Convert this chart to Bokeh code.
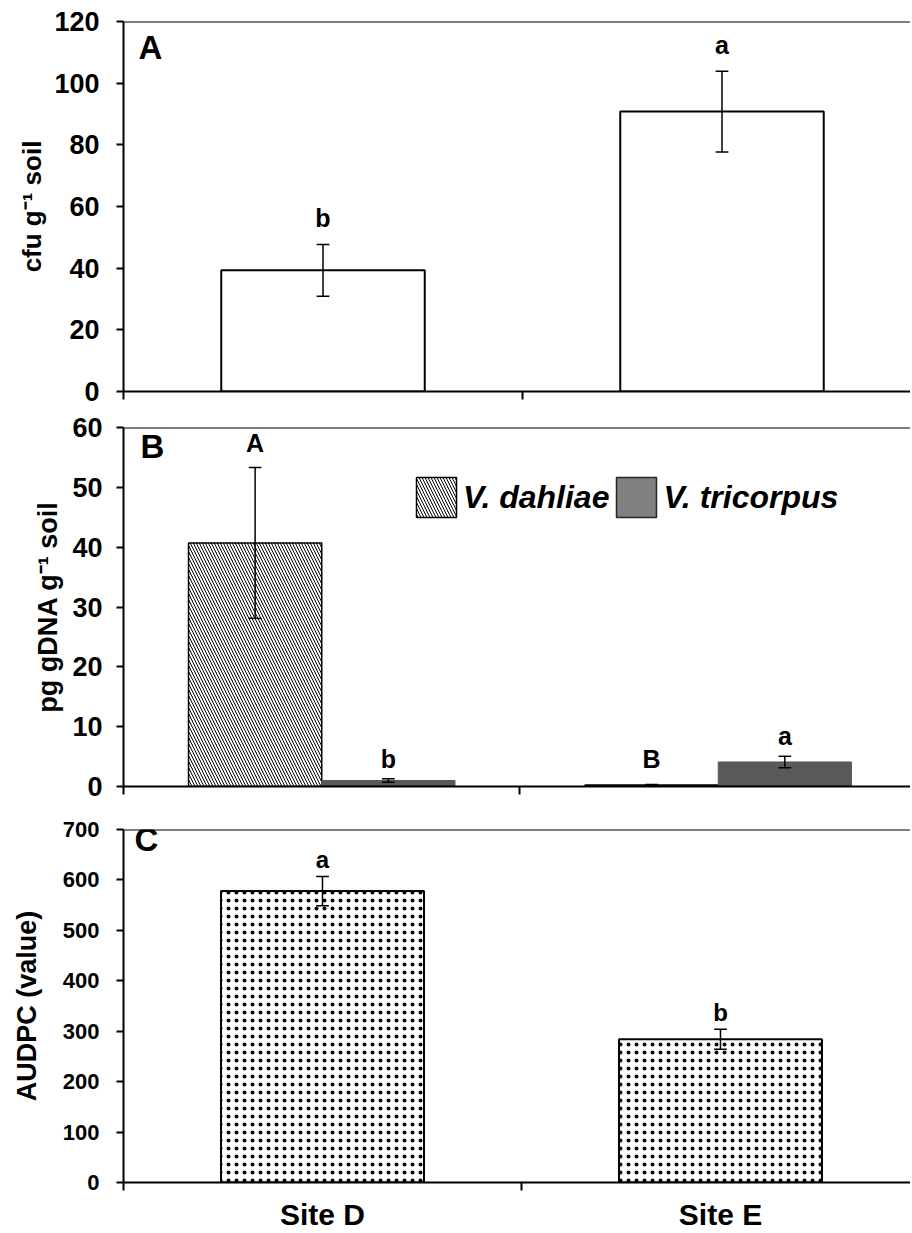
from bokeh.plotting import figure
from bokeh.models import Range1d, FixedTicker, Span, Legend, LegendItem, Label
from bokeh.layouts import column
from bokeh.embed import file_html
from bokeh.resources import INLINE
from bokeh.core.properties import value

# ---------------- data ----------------
sites = ["Site D", "Site E"]

# Panel A: cfu g-1 soil
cfu_mean = [39.3, 90.8]
cfu_err = [8.4, 13.1]
cfu_letters = ["b", "a"]

# Panel B: pg gDNA g-1 soil
dahliae_mean = [40.7, 0.25]
dahliae_err = [12.6, 0.1]
dahliae_letters = ["A", "B"]
tricorpus_mean = [1.0, 4.1]
tricorpus_err = [0.3, 0.95]
tricorpus_letters = ["b", "a"]

# Panel C: AUDPC
audpc_mean = [578, 284]
audpc_err = [29, 20]
audpc_letters = ["a", "b"]

yticks_A = [0, 20, 40, 60, 80, 100, 120]
yticks_B = [0, 10, 20, 30, 40, 50, 60]
yticks_C = [0, 100, 200, 300, 400, 500, 600, 700]

FONT = "Liberation Sans"
W = 910
CAT_PX = 399.0
centers = [i + 0.5 for i in range(len(sites))]
boundaries = [float(i) for i in range(len(sites) + 1)]


def make_fig(height, left, top, bottom, yticks, ylabel, tick_fs, tick_standoff,
             label_fs, label_standoff, xlabels=False):
    x_end = (W - left) / CAT_PX
    p = figure(width=W, height=height, output_backend="svg", toolbar_location=None,
               x_range=Range1d(0, x_end), y_range=Range1d(yticks[0], yticks[-1]),
               min_border_left=left, min_border_right=0, min_border_top=top,
               min_border_bottom=bottom)
    p.outline_line_color = None
    p.grid.visible = False
    p.background_fill_color = "white"
    p.border_fill_color = "white"
    # y axis
    ya = p.yaxis[0]
    ya.ticker = FixedTicker(ticks=yticks)
    ya.axis_line_width = 2
    ya.axis_line_color = "black"
    ya.major_tick_out = 7
    ya.major_tick_in = 0
    ya.major_tick_line_width = 2
    ya.minor_tick_line_color = None
    ya.major_label_standoff = tick_standoff
    ya.major_label_text_font = FONT
    ya.major_label_text_font_style = "bold"
    ya.major_label_text_font_size = tick_fs
    ya.major_label_text_color = "black"
    ya.axis_label = ylabel
    ya.axis_label_text_font = FONT
    ya.axis_label_text_font_style = "bold"
    ya.axis_label_text_font_size = label_fs
    ya.axis_label_text_color = "black"
    ya.axis_label_standoff = label_standoff
    # x axis
    xa = p.xaxis[0]
    if xlabels:
        xa.ticker = FixedTicker(ticks=centers, minor_ticks=boundaries)
        xa.major_label_overrides = {c: s for c, s in zip(centers, sites)}
        xa.major_label_text_font = FONT
        xa.major_label_text_font_style = "bold"
        xa.major_label_text_font_size = "30px"
        xa.major_label_text_color = "black"
        xa.major_label_standoff = 7
    else:
        xa.ticker = FixedTicker(ticks=[], minor_ticks=boundaries)
        xa.major_label_text_font_size = "0px"
        xa.major_label_standoff = 0
    xa.axis_line_width = 2
    xa.axis_line_color = "black"
    xa.major_tick_line_color = None
    xa.major_tick_out = 0
    xa.major_tick_in = 0
    xa.minor_tick_line_color = "black"
    xa.minor_tick_line_width = 2
    xa.minor_tick_out = 8
    xa.minor_tick_in = 0
    # top line
    p.add_layout(Span(location=yticks[-1], dimension="width", line_color="black",
                      line_width=2))
    return p


def error_bars(p, xs, mean, err, cap=0.016, lw=1.5):
    lo = [m - e for m, e in zip(mean, err)]
    hi = [m + e for m, e in zip(mean, err)]
    p.segment(x0=xs, y0=lo, x1=xs, y1=hi, line_color="black", line_width=lw)
    p.segment(x0=[x - cap for x in xs], y0=hi, x1=[x + cap for x in xs], y1=hi,
              line_color="black", line_width=lw)
    p.segment(x0=[x - cap for x in xs], y0=lo, x1=[x + cap for x in xs], y1=lo,
              line_color="black", line_width=lw)
    return hi


def sig_letters(p, xs, tops, letters, fs, gap):
    p.text(x=xs, y=tops, text=letters, text_font=value(FONT), text_font_style="bold",
           text_font_size=fs, text_align="center", text_baseline="middle",
           y_offset=-gap, text_color="black")


def panel_letter(p, txt, x, y):
    p.add_layout(Label(x=x, y=y, x_units="screen", y_units="screen", text=txt,
                       text_font=FONT, text_font_style="bold", text_font_size="33px",
                       text_baseline="middle", text_color="black"))


# ---------------- Panel A ----------------
pA = make_fig(407, 123, 21, 16, yticks_A, "cfu g\u207b\u00b9 soil", "27px", 17, "26px", 4)
pA.vbar(x=centers, top=cfu_mean, width=0.51, fill_color="white", line_color="black",
        line_width=2)
hiA = error_bars(pA, centers, cfu_mean, cfu_err)
sig_letters(pA, centers, hiA, cfu_letters, "25px", 26)
panel_letter(pA, "A", 15, 344)

# ---------------- Panel B ----------------
pB = make_fig(401, 118, 20, 22, yticks_B, "pg gDNA g\u207b\u00b9 soil", "27px", 14, "27px", 6)
off = 0.168
xd = [c - off for c in centers]
xt = [c + off for c in centers]
rd = pB.vbar(x=xd, top=dahliae_mean, width=0.336, fill_color="white", line_color="black",
             line_width=1.5, hatch_pattern="left_diagonal_line", hatch_color="black",
             hatch_scale=6, hatch_weight=1)
rt = pB.vbar(x=xt, top=tricorpus_mean, width=0.336, fill_color="#595959",
             line_color="#595959", line_width=1)
# legend proxy: zero-height bars (hidden under the axis) carrying the swatch style
rt_proxy = pB.vbar(x=xt, top=[0] * len(xt), bottom=[0] * len(xt), width=0.336,
                   fill_color="#808080", line_color="#262626", line_width=1.5)
hi_d = error_bars(pB, xd, dahliae_mean, dahliae_err)
hi_t = error_bars(pB, xt, tricorpus_mean, tricorpus_err)
sig_letters(pB, xd, hi_d, dahliae_letters, "25px", 25)
sig_letters(pB, xt, hi_t, tricorpus_letters, "25px", 20)
panel_letter(pB, "B", 17, 340)
leg = Legend(items=[LegendItem(label="V. dahliae", renderers=[rd]),
                    LegendItem(label="V. tricorpus", renderers=[rt_proxy])],
             location=(288, 264), orientation="horizontal", glyph_width=50,
             glyph_height=50, label_standoff=2, spacing=2, padding=0, margin=0,
             border_line_color=None, background_fill_alpha=0,
             label_text_font=FONT, label_text_font_style="bold italic",
             label_text_font_size="32px", label_text_color="black")
pB.add_layout(leg)

# ---------------- Panel C ----------------
pC = make_fig(425, 121, 21, 42, yticks_C, "AUDPC (value)", "22px", 17, "27px", 18,
              xlabels=True)
pC.vbar(x=centers, top=audpc_mean, width=0.51, fill_color="white", line_color="black",
        line_width=2, hatch_pattern="dot", hatch_color="black", hatch_scale=8,
        hatch_weight=0.5)
hiC = error_bars(pC, centers, audpc_mean, audpc_err)
sig_letters(pC, centers, hiC, audpc_letters, "24px", 17)
panel_letter(pC, "C", 11, 343)

layout = column(pA, pB, pC, spacing=0)
open("out.html", "w").write(file_html(layout, INLINE))
